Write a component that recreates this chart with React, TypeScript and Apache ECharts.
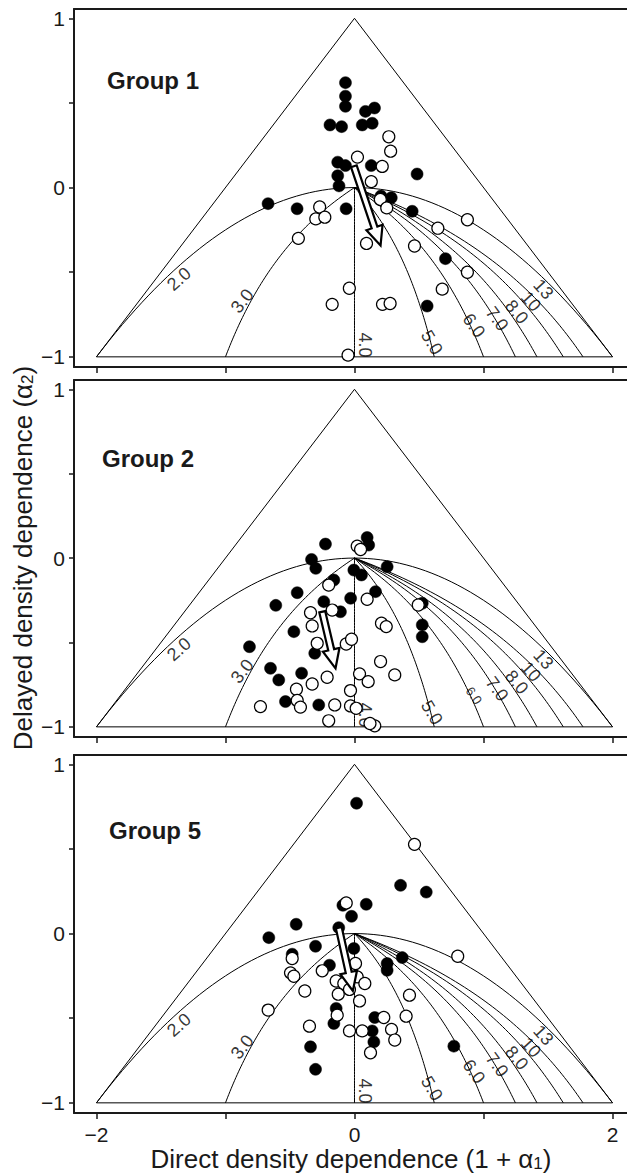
import React, { useEffect, useRef } from "react";
import * as echarts from "echarts";

// ---- data -----------------------------------------------------------------
// Group 1
const g1Filled = [
  [-0.07, 0.62], [-0.07, 0.54], [-0.07, 0.48], [-0.19, 0.37], [-0.1, 0.36],
  [0.085, 0.45], [0.155, 0.47], [0.06, 0.37], [0.137, 0.38], [-0.13, 0.15],
  [-0.07, 0.13], [-0.13, 0.07], [-0.12, 0.01], [0.13, 0.13], [0.485, 0.08],
  [0.205, -0.05], [0.285, -0.06], [-0.065, -0.125], [0.447, -0.14],
  [0.705, -0.42], [0.563, -0.7], [-0.67, -0.095], [-0.445, -0.125],
];
const g1Open = [
  [0.266, 0.3], [0.28, 0.215], [0.023, 0.18], [0.215, 0.125], [0.13, 0.035],
  [0.2, -0.07], [0.25, -0.12], [-0.27, -0.115], [-0.3, -0.185], [-0.23, -0.175],
  [-0.435, -0.3], [0.875, -0.19], [0.646, -0.24], [0.465, -0.345], [0.093, -0.33],
  [0.875, -0.5], [0.68, -0.6], [-0.04, -0.595], [-0.173, -0.69], [0.217, -0.69],
  [0.276, -0.685], [-0.05, -0.99],
];
const g1Arrow = [-0.005, 0.126, 0.202, -0.342];

// Group 2
const g2Filled = [
  [-0.225, 0.083], [0.098, 0.122], [0.11, 0.077], [-0.333, -0.008], [-0.3, -0.061],
  [-0.005, -0.071], [0.054, -0.1], [0.253, -0.051], [-0.16, -0.13], [-0.444, -0.205],
  [-0.61, -0.28], [-0.238, -0.258], [-0.03, -0.238], [0.163, -0.199], [-0.109, -0.318],
  [-0.47, -0.436], [0.525, -0.268], [0.525, -0.396], [0.525, -0.466], [-0.814, -0.525],
  [-0.308, -0.564], [-0.651, -0.653], [-0.587, -0.722], [-0.41, -0.682], [-0.535, -0.85],
  [-0.277, -0.87],
];
const g2Open = [
  [0.021, 0.071], [0.047, 0.051], [-0.2, -0.16], [-0.341, -0.324], [-0.173, -0.308],
  [-0.328, -0.402], [-0.289, -0.505], [-0.064, -0.509], [-0.023, -0.481], [0.098, -0.244],
  [0.209, -0.386], [0.246, -0.406], [0.494, -0.278], [0.202, -0.613], [0.312, -0.692],
  [0.039, -0.686], [0.106, -0.732], [-0.212, -0.706], [-0.328, -0.746], [-0.45, -0.777],
  [-0.444, -0.844], [-0.419, -0.883], [-0.729, -0.88], [-0.153, -0.87], [-0.031, -0.785],
  [-0.031, -0.876], [0.013, -0.89], [-0.2, -0.964], [0.157, -0.994], [0.12, -0.98],
];
const g2Arrow = [-0.25, -0.318, -0.147, -0.653];

// Group 5
const g5Filled = [
  [0.357, 0.285], [0.556, 0.245], [0.091, 0.173], [-0.023, 0.102], [-0.122, 0.035],
  [-0.452, 0.055], [-0.664, -0.024], [-0.302, -0.075], [-0.005, -0.088], [-0.483, -0.122],
  [-0.194, -0.187], [0.37, -0.142], [0.253, -0.177], [0.253, -0.217], [-0.142, -0.442],
  [-0.16, -0.531], [0.157, -0.496], [0.137, -0.575], [0.15, -0.64], [-0.341, -0.669],
  [-0.302, -0.802], [0.016, 0.77], [0.77, -0.665], [-0.09, 0.167],
];
const g5Open = [
  [-0.064, 0.181], [-0.483, -0.147], [-0.496, -0.232], [-0.47, -0.252], [-0.25, -0.22],
  [0.008, -0.177], [-0.142, -0.28], [-0.083, -0.295], [0.021, -0.256], [0.08, -0.295],
  [-0.039, -0.33], [-0.126, -0.358], [0.039, -0.398], [-0.385, -0.339], [-0.669, -0.452],
  [-0.134, -0.482], [0.227, -0.496], [-0.349, -0.547], [-0.039, -0.575], [0.06, -0.575],
  [0.287, -0.566], [0.312, -0.629], [0.124, -0.704], [0.426, -0.364], [0.4, -0.488],
  [0.465, 0.527], [0.8, -0.134],
];
const g5Arrow = [-0.122, 0.035, -0.013, -0.339];

const GROUP_NAMES = ["Group 1", "Group 2", "Group 5"];

// period isoclines (theoretical curves of the AR(2) plane)
const PERIODS = [3, 4, 5, 6, 7, 8, 10, 13];
const CONTOUR_LABELS = ["2.0", "3.0", "4.0", "5.0", "6.0", "7.0", "8.0", "10", "13"];
const CONTOUR_LABEL_X = [-1.36, -0.87, 0.08, 0.6, 0.925, 1.105, 1.257, 1.367, 1.464];
const CONTOUR_LABEL_Y = [-0.54, -0.67, -0.93, -0.915, -0.815, -0.775, -0.735, -0.673, -0.6];
const CONTOUR_LABEL_ROT = [41, 52, -90, -59, -54, -54, -50, -48, -48];

const X_TICKS = [-2, -1, 0, 1, 2];
const X_LABELS = [-2, 0, 2];
const Y_TICKS = [-1, -0.5, 0, 0.5, 1];
const Y_LABELS = [-1, 0, 1];

const FONT = "'Liberation Sans', Arial, Helvetica, sans-serif";
const INK = "#1a1a1a";

function triangle() {
  return [[-2, -1], [0, 1], [2, -1], [-2, -1]];
}
function parabola() {
  const pts: number[][] = [];
  for (let i = 0; i <= 80; i++) {
    const x = -2 + (4 * i) / 80;
    pts.push([x, -(x * x) / 4]);
  }
  return pts;
}
function isocline(T: number) {
  const c = Math.cos((2 * Math.PI) / T);
  const pts: number[][] = [];
  for (let i = 0; i <= 60; i++) {
    const y = -i / 60;
    pts.push([(4 * c * y) / (y - 1), y]);
  }
  return pts;
}
const minusFmt = (v: number) => (v < 0 ? "\u2212" + Math.abs(v) : String(v));

export default function App() {
  const ref = useRef<HTMLDivElement>(null);
  useEffect(() => {
    if (!ref.current) return;
    const chart = echarts.init(ref.current, undefined, { renderer: "svg" });
    const panels = [
      { top: 9, height: 358, filled: g1Filled, open: g1Open, arrow: g1Arrow },
      { top: 380, height: 357, filled: g2Filled, open: g2Open, arrow: g2Arrow },
      { top: 755, height: 358, filled: g5Filled, open: g5Open, arrow: g5Arrow },
    ];
    const grid: any[] = [];
    const xAxis: any[] = [];
    const yAxis: any[] = [];
    const series: any[] = [];
    panels.forEach((p, i) => {
      grid.push({ left: 74, right: 0, top: p.top, height: p.height });
      const frameLine = { show: true, onZero: false, lineStyle: { color: INK, width: 2 } };
      xAxis.push({
        type: "value", gridIndex: i, min: -2.174, max: 2.112, position: "bottom",
        axisLine: frameLine,
        axisTick: { show: true, length: 6, customValues: X_TICKS, lineStyle: { color: INK, width: 1.5 } },
        axisLabel: {
          show: i === 2, customValues: X_LABELS, formatter: minusFmt,
          fontSize: 21, color: INK, fontFamily: FONT, margin: 11,
        },
        splitLine: { show: false },
      });
      xAxis.push({
        type: "value", gridIndex: i, min: -2.174, max: 2.112, position: "top",
        axisLine: frameLine, axisTick: { show: false }, axisLabel: { show: false },
        splitLine: { show: false },
      });
      yAxis.push({
        type: "value", gridIndex: i, min: -1.06, max: 1.055,
        axisLine: frameLine,
        axisTick: { show: true, length: 5, customValues: Y_TICKS, lineStyle: { color: INK, width: 1.5 } },
        axisLabel: {
          customValues: Y_LABELS, formatter: minusFmt,
          fontSize: 21, color: INK, fontFamily: FONT, margin: 9,
        },
        splitLine: { show: false },
      });
      const xi = i * 2;
      const base = { xAxisIndex: xi, yAxisIndex: i, silent: true, animation: false };
      const lineBase = {
        ...base, type: "line", showSymbol: false, symbol: "none",
        lineStyle: { color: "#000", width: 1 }, z: 2,
      };
      series.push({ ...lineBase, data: triangle() });
      series.push({ ...lineBase, data: parabola() });
      PERIODS.forEach((T) => series.push({ ...lineBase, data: isocline(T) }));
      series.push({
        ...base, type: "scatter", symbolSize: 1, itemStyle: { color: "rgba(0,0,0,0)" }, z: 3,
        label: {
          show: true, position: "inside", formatter: "{b}", color: "#000",
          fontSize: 18, fontFamily: FONT, textBorderWidth: 0,
        },
        data: CONTOUR_LABELS.map((t, k) => ({
          name: t,
          value: [CONTOUR_LABEL_X[k], CONTOUR_LABEL_Y[k]],
          label: {
            rotate: CONTOUR_LABEL_ROT[k],
            fontSize: i === 1 && t === "6.0" ? 13 : 18,
            color: "#000", textBorderWidth: 0,
          },
        })),
      });
      series.push({
        ...base, type: "scatter", symbol: "circle", symbolSize: 12, z: 4,
        itemStyle: { color: "#000", borderColor: "#000", borderWidth: 0.5, opacity: 1 },
        data: p.filled,
      });
      series.push({
        ...base, type: "scatter", symbol: "circle", symbolSize: 12, z: 5,
        itemStyle: { color: "#fff", borderColor: "#000", borderWidth: 1.2, opacity: 1 },
        data: p.open,
      });
      series.push({
        ...base, type: "custom", z: 6,
        encode: { x: [0, 2], y: [1, 3] },
        data: [p.arrow],
        renderItem: (params: any, api: any) => {
          const p1 = api.coord([api.value(0), api.value(1)]);
          const p2 = api.coord([api.value(2), api.value(3)]);
          const dx = p2[0] - p1[0], dy = p2[1] - p1[1];
          const len = Math.hypot(dx, dy);
          const ux = dx / len, uy = dy / len;
          const nx = -uy, ny = ux;
          const w = 3, hw = 8.5, hl = 19;
          const bx = p2[0] - ux * hl, by = p2[1] - uy * hl;
          const pts = [
            [p1[0] + nx * w, p1[1] + ny * w],
            [bx + nx * w, by + ny * w],
            [bx + nx * hw, by + ny * hw],
            [p2[0], p2[1]],
            [bx - nx * hw, by - ny * hw],
            [bx - nx * w, by - ny * w],
            [p1[0] - nx * w, p1[1] - ny * w],
          ];
          return {
            type: "polygon",
            shape: { points: pts },
            style: { fill: "#fff", stroke: "#000", lineWidth: 2.2, lineJoin: "miter" },
          };
        },
      });
    });

    const groupPos = [
      [107, 80], [102, 458], [109, 830],
    ];
    const graphic: any[] = GROUP_NAMES.map((g, i) => ({
      type: "text", x: groupPos[i][0], y: groupPos[i][1], silent: true,
      style: {
        text: g, fill: INK, font: `bold 24px ${FONT}`,
        align: "left", verticalAlign: "middle",
      },
    }));
    graphic.push({
      type: "text", x: 351, y: 1159, silent: true,
      style: {
        text: "Direct density dependence (1 + \u03b1{s|1})",
        fill: INK, fontSize: 26, fontFamily: FONT, lineHeight: 26,
        align: "center", verticalAlign: "middle",
        rich: { s: { fontSize: 17, fontFamily: FONT, fill: INK, lineHeight: 14, verticalAlign: "bottom" } },
      },
    });
    graphic.push({
      type: "text", x: 23, y: 558, rotation: Math.PI / 2, silent: true,
      style: {
        text: "Delayed density dependence (\u03b1{s|2})",
        fill: INK, fontSize: 26, fontFamily: FONT, lineHeight: 26,
        align: "center", verticalAlign: "middle",
        rich: { s: { fontSize: 17, fontFamily: FONT, fill: INK, lineHeight: 14, verticalAlign: "bottom" } },
      },
    });

    chart.setOption({
      animation: false,
      backgroundColor: "#fff",
      grid, xAxis, yAxis, series, graphic,
    });
    return () => chart.dispose();
  }, []);
  return (
    <div
      ref={ref}
      style={{ position: "absolute", left: 0, top: 0, width: 627, height: 1173 }}
    />
  );
}
